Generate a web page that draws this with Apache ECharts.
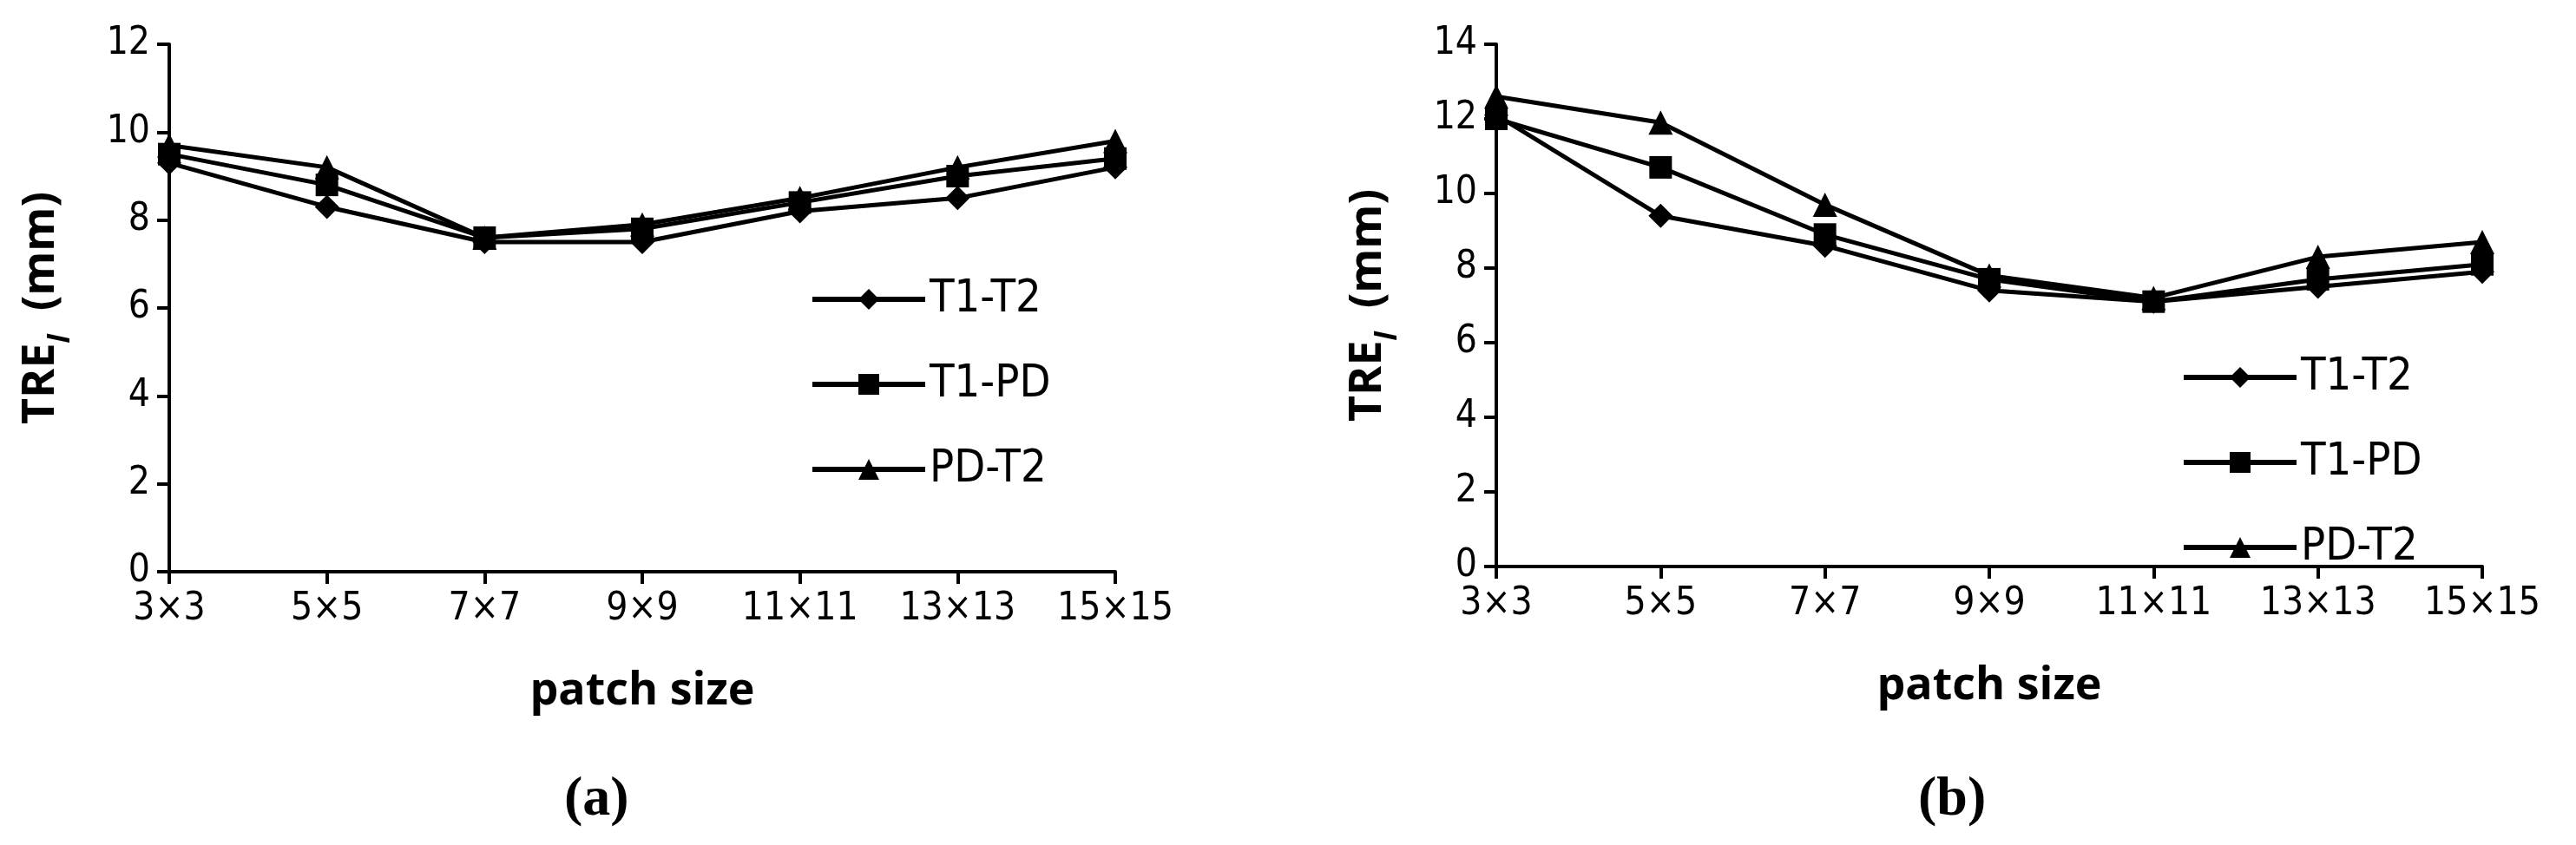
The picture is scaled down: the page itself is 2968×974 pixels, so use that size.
<!DOCTYPE html>
<html>
<head>
<meta charset="utf-8">
<style>html,body{margin:0;padding:0;background:#fff}#c{width:2968px;height:974px}</style>
<script src="https://cdn.jsdelivr.net/npm/echarts@6/dist/echarts.min.js"></script>
</head>
<body>
<div id="c"></div>
<script>
const categories = ['3×3', '5×5', '7×7', '9×9', '11×11', '13×13', '15×15'];
const seriesNames = ['T1-T2', 'T1-PD', 'PD-T2'];
const symbols = ['diamond', 'rect', 'triangle'];
const a_T1T2 = [9.3, 8.3, 7.5, 7.5, 8.2, 8.5, 9.2];
const a_T1PD = [9.5, 8.8, 7.6, 7.8, 8.4, 9.0, 9.4];
const a_PDT2 = [9.7, 9.2, 7.6, 7.9, 8.5, 9.2, 9.8];
const b_T1T2 = [12.1, 9.4, 8.6, 7.4, 7.1, 7.5, 7.9];
const b_T1PD = [12.0, 10.7, 8.9, 7.7, 7.1, 7.7, 8.1];
const b_PDT2 = [12.6, 11.9, 9.7, 7.8, 7.2, 8.3, 8.7];
const panelData = [[a_T1T2, a_T1PD, a_PDT2], [b_T1T2, b_T1PD, b_PDT2]];
const yMax = [12, 14];

const chart = echarts.init(document.getElementById('c'));
const tickFont = { fontFamily: 'DejaVu Sans Condensed, Liberation Sans', fontSize: 44, color: '#000' };
const axisLine = { show: true, lineStyle: { color: '#000', width: 4 } };
const axisTick = { show: true, length: 14, lineStyle: { color: '#000', width: 4 }, inside: false };

const grids = [
  { left: 195, width: 1090, top: 51, height: 608 },
  { left: 1724, width: 1136, top: 51, height: 602 }
];
const xAxes = grids.map((g, i) => ({
  type: 'category', gridIndex: i, data: categories, boundaryGap: false,
  axisLine, axisTick: Object.assign({ alignWithLabel: true }, axisTick),
  axisLabel: Object.assign({ margin: 22, interval: 0 }, tickFont),
  name: 'patch size', nameLocation: 'middle', nameGap: 112,
  nameTextStyle: { fontFamily: 'Open Sans', fontWeight: 'bold', fontSize: 52, color: '#000' }
}));
const yAxes = grids.map((g, i) => ({
  type: 'value', gridIndex: i, min: 0, max: yMax[i], interval: 2,
  axisLine, axisTick, splitLine: { show: false },
  axisLabel: Object.assign({ margin: 22 }, tickFont),
  name: '{b|TRE}{s|l}{b|  (mm)}', nameLocation: 'middle', nameGap: 122,
  nameTextStyle: {
    rich: {
      b: { fontFamily: 'Open Sans', fontWeight: 'bold', fontSize: 52, color: '#000' },
      s: { fontFamily: 'Open Sans', fontWeight: 'bold', fontStyle: 'italic', fontSize: 34, color: '#000', verticalAlign: 'bottom', padding: [0, 0, -14, 0] }
    }
  }
}));
const series = [];
panelData.forEach((sets, p) => {
  sets.forEach((vals, k) => {
    series.push({
      name: seriesNames[k], type: 'line', xAxisIndex: p, yAxisIndex: p, data: vals,
      symbol: symbols[k], symbolSize: k === 1 ? 26 : 28, showAllSymbol: true,
      lineStyle: { color: '#000', width: 5 }, itemStyle: { color: '#000' }
    });
  });
});
const legendBase = {
  data: seriesNames, orient: 'vertical', itemWidth: 130, itemHeight: 30, itemGap: 42,
  lineStyle: { width: 6, color: '#000' },
  textStyle: { fontFamily: 'DejaVu Sans Condensed, Liberation Sans', fontSize: 52, lineHeight: 56, color: '#000' }
};
chart.setOption({
  animation: false,
  backgroundColor: '#fff',
  grid: grids,
  xAxis: xAxes,
  yAxis: yAxes,
  series,
  legend: [
    Object.assign({ left: 928, top: 312 }, legendBase),
    Object.assign({ left: 2508, top: 402, itemGap: 24 }, legendBase)
  ],
  graphic: [
    { type: 'text', left: 650, top: 890, style: { text: '(a)', font: 'bold 64px "Liberation Serif"', fill: '#000' } },
    { type: 'text', left: 2210, top: 890, style: { text: '(b)', font: 'bold 64px "Liberation Serif"', fill: '#000' } }
  ]
});
</script>
</body>
</html>
